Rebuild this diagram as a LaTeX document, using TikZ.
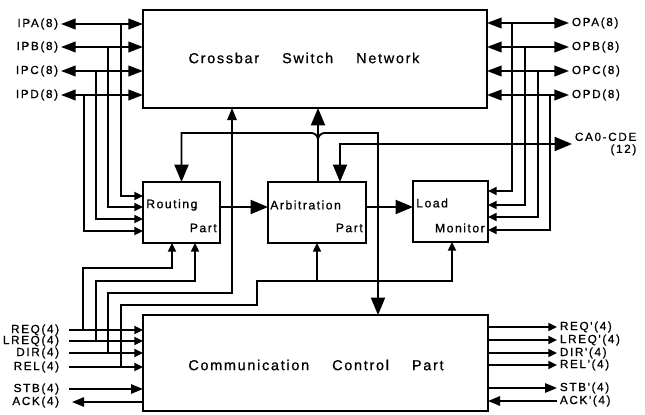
\documentclass[tikz,border=0pt]{standalone}
\usepackage{fontspec}
\setmainfont{Liberation Sans}
\newfontfamily\lblfont{Liberation Sans}[LetterSpace=14, FakeBold=0.8]
\newfontfamily\boxfont{Liberation Sans}[LetterSpace=12, FakeBold=0.8]
\usepackage{tikz}
\usetikzlibrary{arrows.meta}

\begin{document}
\begin{tikzpicture}[x=0.75pt, y=-0.75pt,
    blk/.style={draw, line width=2pt, inner sep=0pt, outer sep=0pt},
    lbl/.style={font=\lblfont\fontsize{8.8}{9}\selectfont, inner sep=2pt},
    boxtxt/.style={font=\boxfont\fontsize{9.2}{10}\selectfont, inner sep=0pt},
    bigtxt/.style={font=\boxfont\fontsize{10.8}{12}\selectfont, inner sep=0pt},
    wire/.style={line width=1.4pt},
    bigarr/.style={wire, -{Triangle[length=13pt, width=10.5pt]}},
    midarr/.style={wire, -{Triangle[length=9pt, width=7pt]}},
    smarr/.style={wire, -{Triangle[length=6.5pt, width=6pt]}},
    bothbig/.style={wire, {Triangle[length=13pt, width=10.5pt]}-{Triangle[length=13pt, width=10.5pt]}},
    bothmid/.style={wire, {Triangle[length=11pt, width=8pt]}-{Triangle[length=11pt, width=8pt]}}
  ]
  \useasboundingbox (0,0) rectangle (645,414);
  % blocks
  \node[blk, minimum width=258pt, minimum height=73.5pt] (xbar) at (315,59) {};
  \node[blk, minimum width=57.75pt, minimum height=45.75pt] (route) at (181.5,212.5) {};
  \node[blk, minimum width=73.5pt, minimum height=45.75pt] (arb) at (317,212.5) {};
  \node[blk, minimum width=56.25pt, minimum height=45.75pt] (load) at (450.5,211.5) {};
  \node[blk, minimum width=258.75pt, minimum height=72pt] (comm) at (315.5,363) {};
  \node[bigtxt] (xbart) at (304,58) {Crossbar\hspace{1.6em}Switch\hspace{1.6em}Network};
  \node[bigtxt] (commt) at (316,365) {Communication\hspace{1.6em}Control\hspace{1.6em}Part};
  \node[boxtxt, anchor=west] (routet) at (146,205) {Routing};
  \node[boxtxt, anchor=east] (routep) at (217,228) {Part};
  \node[boxtxt, anchor=west] (arbt) at (270,205) {Arbitration};
  \node[boxtxt, anchor=east] (arbp) at (363,228) {Part};
  \node[boxtxt, anchor=west] (loadt) at (416,203) {Load};
  \node[boxtxt, anchor=east] (loadm) at (485,228) {Monitor};

  % input / output ports
  \node[lbl, anchor=east] (ipa) at (61,24) {IPA(8)};
  \node[lbl, anchor=east] (ipb) at (61,47) {IPB(8)};
  \node[lbl, anchor=east] (ipc) at (61,71) {IPC(8)};
  \node[lbl, anchor=east] (ipd) at (61,95) {IPD(8)};
  \node[lbl, anchor=west] (opa) at (569,23) {OPA(8)};
  \node[lbl, anchor=west] (opb) at (569,47) {OPB(8)};
  \node[lbl, anchor=west] (opc) at (569,71) {OPC(8)};
  \node[lbl, anchor=west] (opd) at (569,95) {OPD(8)};
  \node[lbl, anchor=west, align=right] (ca) at (572,144) {CA0-CDE\\(12)};
  \draw[bothmid] (ipa.east) -- (xbar.west |- ipa.east);
  \draw[bothmid] (ipb.east) -- (xbar.west |- ipb.east);
  \draw[bothmid] (ipc.east) -- (xbar.west |- ipc.east);
  \draw[bothmid] (ipd.east) -- (xbar.west |- ipd.east);
  \draw[bothmid] (xbar.east |- opa.west) -- (opa.west);
  \draw[bothmid] (xbar.east |- opb.west) -- (opb.west);
  \draw[bothmid] (xbar.east |- opc.west) -- (opc.west);
  \draw[bothmid] (xbar.east |- opd.west) -- (opd.west);
  \draw[smarr] (ipa.east -| 121,0) |- (route.west |- 0,196);
  \draw[smarr] (ipb.east -| 108,0) |- (route.west |- 0,207);
  \draw[smarr] (ipc.east -| 96,0) |- (route.west |- 0,219);
  \draw[smarr] (ipd.east -| 84,0) |- (route.west |- 0,231);
  \draw[smarr] (opa.west -| 512,0) |- (load.east |- 0,191);
  \draw[smarr] (opb.west -| 525,0) |- (load.east |- 0,205);
  \draw[smarr] (opc.west -| 538,0) |- (load.east |- 0,217);
  \draw[smarr] (opd.west -| 550,0) |- (load.east |- 0,230);
  \draw[bothbig] (ca.west) -| (arb.north -| 340,0);

  % between the parts
  \coordinate (fork) at (318,150);
  \draw[bigarr] (route.east |- 0,207) -- (arb.west |- 0,207);
  \draw[bigarr] (arb.east |- 0,207) -- (load.west |- 0,207);
  \draw[bigarr] (arb.north -| 318,0) -- (xbar.south -| 318,0);
  \draw[bigarr, rounded corners=5pt] (fork) |- (260,133) [sharp corners] -| (route.north);
  \draw[bigarr, rounded corners=5pt] (fork) |- (350,133) [sharp corners] -| (comm.north -| 378,0);

  % control signals
  \node[lbl, anchor=east] (req) at (62,330) {REQ(4)};
  \node[lbl, anchor=east] (lreq) at (62,341) {LREQ(4)};
  \node[lbl, anchor=east] (dir) at (62,353) {DIR(4)};
  \node[lbl, anchor=east] (rel) at (62,367) {REL(4)};
  \node[lbl, anchor=east] (stb) at (62,389) {STB(4)};
  \node[lbl, anchor=east] (ack) at (62,402) {ACK(4)};
  \draw[smarr] (req.east) ++(7,0) -- (comm.west |- req.east);
  \draw[smarr] (lreq.east) ++(7,0) -- (comm.west |- lreq.east);
  \draw[smarr] (dir.east) ++(7,0) -- (comm.west |- dir.east);
  \draw[smarr] (rel.east) ++(7,0) -- (comm.west |- rel.east);
  \draw[midarr] (stb.east) ++(7,0) -- (comm.west |- stb.east);
  \draw[midarr] (comm.west |- ack.east) -- ([xshift=7.5pt]ack.east);
  \draw[smarr] (req.east -| 83,0) -- ++(0,-62) -| (route.south -| 172,0);
  \draw[smarr] (lreq.east -| 96,0) -- ++(0,-60) -| (route.south -| 195,0);
  \draw[midarr] (dir.east -| 108,0) -- ++(0,-60) -| (xbar.south -| 232,0);
  \draw[smarr] (rel.east -| 121,0) -- ++(0,-62) -| ++(136,-24) -| (load.south -| 452,0);
  \draw[smarr] (arb.south |- 0,281) -- (arb.south);
  \node[lbl, anchor=west] (reqo) at (557,327) {REQ'(4)};
  \node[lbl, anchor=west] (lreqo) at (557,340) {LREQ'(4)};
  \node[lbl, anchor=west] (diro) at (557,353) {DIR'(4)};
  \node[lbl, anchor=west] (relo) at (557,365) {REL'(4)};
  \node[lbl, anchor=west] (stbo) at (557,388) {STB'(4)};
  \node[lbl, anchor=west] (acko) at (557,401) {ACK'(4)};
  \draw[smarr] (comm.east |- reqo.west) -- (reqo.west);
  \draw[smarr] (comm.east |- lreqo.west) -- (lreqo.west);
  \draw[smarr] (comm.east |- diro.west) -- (diro.west);
  \draw[smarr] (comm.east |- relo.west) -- (relo.west);
  \draw[midarr] (comm.east |- stbo.west) -- (stbo.west);
  \draw[midarr] (acko.west) -- (comm.east |- acko.west);
\end{tikzpicture}
\end{document}
